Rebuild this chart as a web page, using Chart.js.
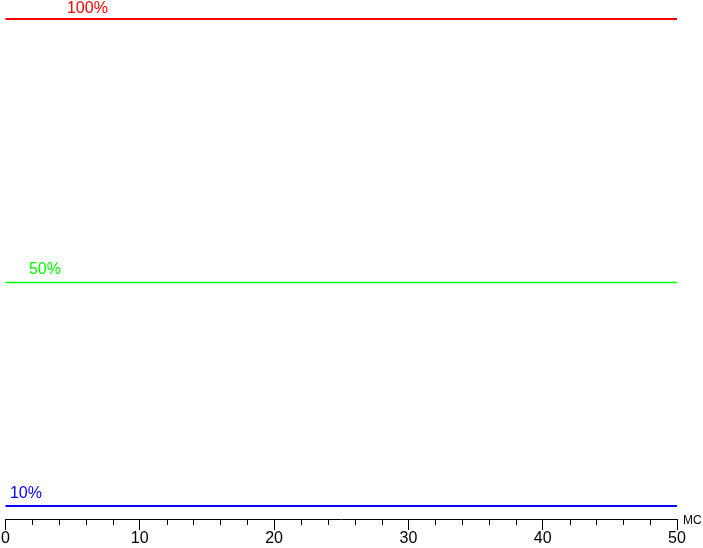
<!DOCTYPE html>
<html>
<head>
<meta charset="utf-8">
<script src="https://cdn.jsdelivr.net/npm/chart.js@4/dist/chart.umd.min.js"></script>
<style>
html,body{margin:0;padding:0;background:#fff;}
#wrap{width:703px;height:548px;}
</style>
</head>
<body>
<div id="wrap"><canvas id="c" width="703" height="548"></canvas></div>
<script>
// Data
const timeMs = [0, 5, 10, 15, 20, 25, 30, 35, 40, 45, 50];
const level100 = [100, 100, 100, 100, 100, 100, 100, 100, 100, 100, 100];
const level50 = [47.3, 47.3, 47.3, 47.3, 47.3, 47.3, 47.3, 47.3, 47.3, 47.3, 47.3];
const level10 = [2.6, 2.6, 2.6, 2.6, 2.6, 2.6, 2.6, 2.6, 2.6, 2.6, 2.6];
const seriesLabels = ['100%', '50%', '10%'];
const labelAtMs = [4.58, 1.75, 0.33];
const majorTicks = [0, 10, 20, 30, 40, 50];
const unitLabel = 'МС';

const colors = ['#ff0000', '#00ff00', '#0000ff'];
const seriesValues = [level100, level50, level10];

const decor = {
  id: 'decor',
  afterDraw(chart) {
    const ctx = chart.ctx;
    const x = chart.scales.x, y = chart.scales.y;
    const area = chart.chartArea;
    ctx.save();
    // minor ticks
    ctx.strokeStyle = '#000';
    ctx.lineWidth = 1;
    for (let v = 0; v <= 50; v += 2) {
      if (majorTicks.includes(v)) continue;
      const px = Math.round(x.getPixelForValue(v)) + 0.5;
      ctx.beginPath();
      ctx.moveTo(px, area.bottom);
      ctx.lineTo(px, area.bottom + 6);
      ctx.stroke();
    }
    // series labels
    ctx.font = '16px "Liberation Sans", Arial, sans-serif';
    ctx.textBaseline = 'alphabetic';
    ctx.textAlign = 'left';
    const offs = [6, 8.5, 8.5];
    seriesLabels.forEach((t, i) => {
      ctx.fillStyle = colors[i];
      ctx.fillText(t, x.getPixelForValue(labelAtMs[i]), y.getPixelForValue(seriesValues[i][0]) - offs[i]);
    });
    // unit
    ctx.fillStyle = '#000';
    ctx.font = '12px "Liberation Sans", Arial, sans-serif';
    ctx.fillText(unitLabel, area.right + 6, area.bottom + 5);
    ctx.restore();
  }
};

new Chart(document.getElementById('c'), {
  type: 'line',
  data: {
    datasets: seriesValues.map((vals, i) => ({
      label: seriesLabels[i],
      data: timeMs.map((t, j) => ({x: t, y: vals[j]})),
      borderColor: colors[i],
      borderWidth: i === 1 ? 1.5 : 2,
      pointRadius: 0,
      tension: 0,
      fill: false,
      clip: false
    }))
  },
  options: {
    responsive: false,
    animation: false,
    events: [],
    layout: {padding: {left: 5, right: 26, top: 19, bottom: 0}},
    plugins: {legend: {display: false}, tooltip: {enabled: false}},
    scales: {
      x: {
        type: 'linear',
        min: 0, max: 50,
        border: {display: true, color: '#000', width: 1},
        grid: {
          drawOnChartArea: false,
          tickLength: 11,
          tickColor: ctx => (ctx.tick && majorTicks.includes(ctx.tick.value)) ? '#000' : 'rgba(0,0,0,0)'
        },
        ticks: {
          stepSize: 2,
          autoSkip: false,
          maxRotation: 0,
          padding: 1,
          color: '#000',
          font: {family: '"Liberation Sans", Arial, sans-serif', size: 16, lineHeight: 1},
          callback: v => majorTicks.includes(v) ? String(v) : ''
        }
      },
      y: {
        type: 'linear',
        display: false,
        min: 0, max: 100
      }
    }
  },
  plugins: [decor]
});
</script>
</body>
</html>
